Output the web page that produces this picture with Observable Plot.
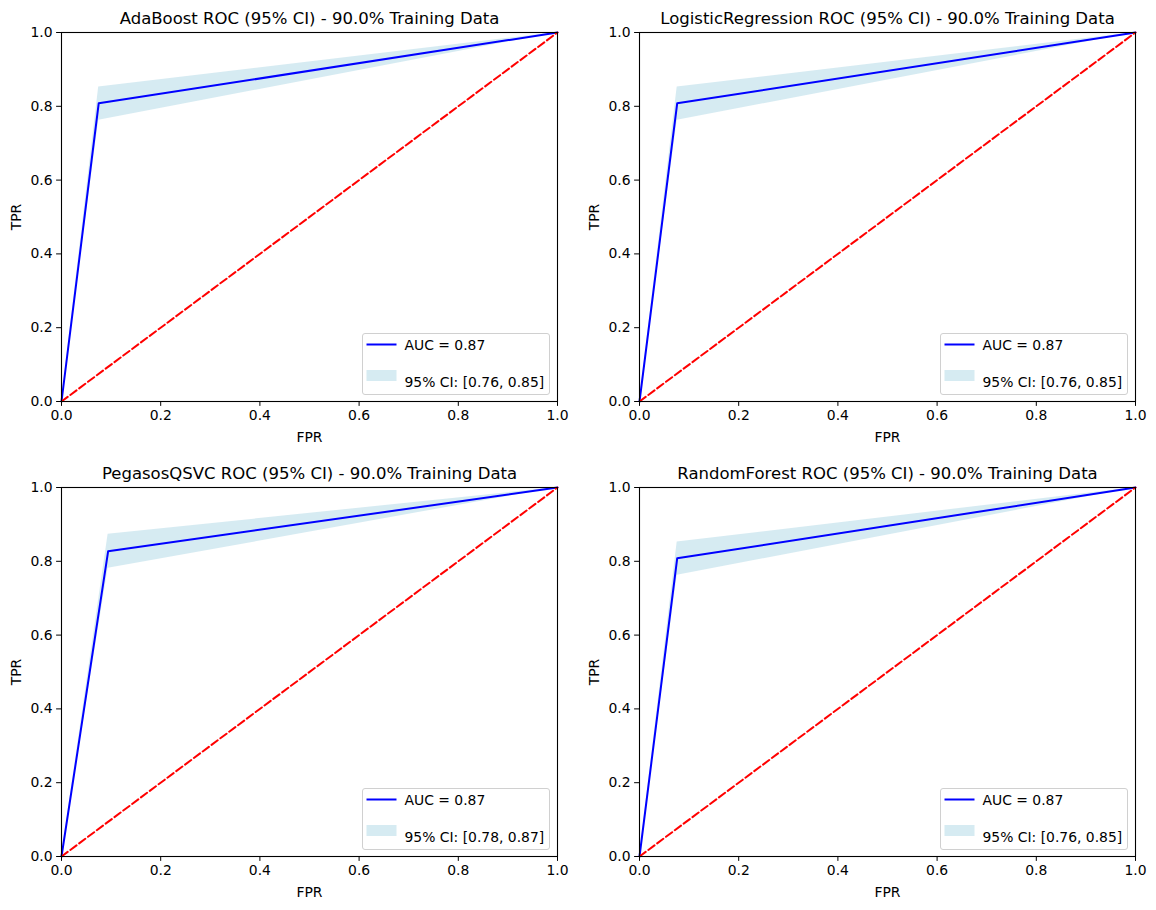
<!DOCTYPE html>
<html>
<head>
<meta charset="utf-8">
<script src="https://cdn.jsdelivr.net/npm/d3@7"></script>
<script src="https://cdn.jsdelivr.net/npm/@observablehq/plot@0.6"></script>
<style>
  body { margin: 0; background: #fff; font-family: "DejaVu Sans", sans-serif; }
  #fig { position: relative; width: 1156px; height: 910px; background: #fff; }
  .panel { position: absolute; width: 578px; height: 455px; }
  .panel svg { display: block; }
  .legend { position: absolute; left: 362px; top: 333px; width: 188px; height: 62px;
            box-sizing: border-box; border: 1px solid #d0d0d0; border-radius: 3px;
            background: rgba(255,255,255,0.8); }
  .legend svg { position: absolute; left: 0; top: 0; }
</style>
</head>
<body>
<div id="fig"></div>
<script>
// ---- data ----
const models = ["AdaBoost", "LogisticRegression", "PegasosQSVC", "RandomForest"];
const fprKnee = [0.075, 0.076, 0.094, 0.076];
const tprKnee = [0.808, 0.808, 0.827, 0.808];
const ciLow   = [0.762, 0.762, 0.781, 0.762];
const ciHigh  = [0.852, 0.852, 0.873, 0.852];
const aucLabels = ["0.87", "0.87", "0.87", "0.87"];
const ciLabels  = ["[0.76, 0.85]", "[0.76, 0.85]", "[0.78, 0.87]", "[0.76, 0.85]"];
const trainingPct = "90.0%";
const axisTicks = [0, 0.2, 0.4, 0.6, 0.8, 1.0];
const diag = [0, 1];

const fig = document.getElementById("fig");
const font = "DejaVu Sans";

models.forEach((m, i) => {
  const rows = [
    {fpr: 0, tpr: 0, lo: 0, hi: 0},
    {fpr: fprKnee[i], tpr: tprKnee[i], lo: ciLow[i], hi: ciHigh[i]},
    {fpr: 1, tpr: 1, lo: 1, hi: 1}
  ];
  const title = `${m} ROC (95% CI) - ${trainingPct} Training Data`;
  const chart = Plot.plot({
    width: 578, height: 455,
    marginLeft: 61, marginRight: 21, marginTop: 32, marginBottom: 54,
    style: {fontFamily: font, fontSize: "13.9px", color: "black", background: "white", overflow: "visible"},
    x: {domain: [0, 1], ticks: axisTicks, tickFormat: d3.format(".1f"), label: null},
    y: {domain: [0, 1], ticks: axisTicks, tickFormat: d3.format(".1f"), label: null},
    marks: [
      Plot.areaY(rows, {x: "fpr", y1: "lo", y2: "hi", fill: "lightblue", fillOpacity: 0.5, curve: "linear"}),
      Plot.line(rows, {x: "fpr", y: "tpr", stroke: "blue", strokeWidth: 2}),
      Plot.line(diag, {x: d => d, y: d => d, stroke: "red", strokeWidth: 2, strokeDasharray: "7.7,3.3"}),
      Plot.frame({stroke: "black", strokeWidth: 1.1}),
      Plot.axisX({ticks: axisTicks, tickFormat: d3.format(".1f"), tickSize: 4.9, tickPadding: 4, stroke: "black", label: null}),
      Plot.axisY({ticks: axisTicks, tickFormat: d3.format(".1f"), tickSize: 4.9, tickPadding: 4, stroke: "black", label: null}),
      Plot.text([title], {frameAnchor: "top", dy: -14, lineAnchor: "middle", textAnchor: "middle", fontSize: 16.5, fill: "black"}),
      Plot.text(["FPR"], {frameAnchor: "bottom", dy: 36, lineAnchor: "middle", textAnchor: "middle", fontSize: 13.9, fill: "black"}),
      Plot.text(["TPR"], {frameAnchor: "left", dx: -45, rotate: -90, lineAnchor: "middle", textAnchor: "middle", fontSize: 13.9, fill: "black"})
    ]
  });
  const panel = document.createElement("div");
  panel.className = "panel";
  panel.style.left = (i % 2) * 578 + "px";
  panel.style.top = Math.floor(i / 2) * 455 + "px";
  panel.appendChild(chart);

  const legend = document.createElement("div");
  legend.className = "legend";
  legend.innerHTML = `<svg width="188" height="62" font-family="${font}" font-size="13.9">
    <line x1="3.5" x2="33.5" y1="10.5" y2="10.5" stroke="blue" stroke-width="2"/>
    <text x="41.5" y="16" fill="black">AUC = ${aucLabels[i]}</text>
    <rect x="3.5" y="36" width="30" height="11" fill="lightblue" fill-opacity="0.5"/>
    <text x="41.5" y="52.5" fill="black">95% CI: ${ciLabels[i]}</text>
  </svg>`;
  panel.appendChild(legend);
  fig.appendChild(panel);
});
</script>
</body>
</html>
